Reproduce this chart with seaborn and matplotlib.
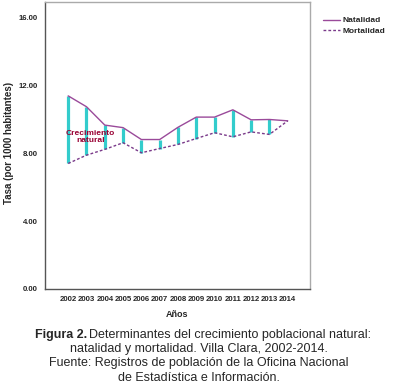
import seaborn as sns
from matplotlib import pyplot as plt
import numpy as np
import pandas as pd

years = [2002, 2003, 2004, 2005, 2006, 2007, 2008, 2009, 2010, 2011, 2012, 2013, 2014]
natalidad = [11.37, 10.73, 9.65, 9.50, 8.80, 8.80, 9.52, 10.12, 10.12, 10.55, 9.96, 9.98, 9.90]
mortalidad = [7.39, 7.88, 8.22, 8.61, 8.02, 8.27, 8.51, 8.86, 9.20, 8.96, 9.25, 9.10, 9.90]
y_ticks = [0, 4, 8, 12, 16]

sns.set_style('white')
plt.rcParams['font.family'] = ['Liberation Sans', 'DejaVu Sans']

df = pd.DataFrame({'year': years, 'Natalidad': natalidad, 'Mortalidad': mortalidad})

fig = plt.figure(figsize=(3.98, 3.9), dpi=100)
ax = fig.add_axes([0.113, 0.259, 0.666, 0.736])

# growth bars between the two rates
ax.vlines(df['year'], df['Mortalidad'], df['Natalidad'], color='#33cccc', lw=2.3, zorder=1)
sns.lineplot(data=df, x='year', y='Natalidad', color='#9a4a9a', lw=1.0, ax=ax,
             label='Natalidad', zorder=2)
sns.lineplot(data=df, x='year', y='Mortalidad', color='#7a3a8a', lw=1.0, ax=ax,
             linestyle=(0, (2, 1.5)), label='Mortalidad', zorder=2)

ax.text(2003.2, 8.95, 'Crecimiento\nnatural', color='#990033', fontsize=6,
        fontweight='bold', ha='center', va='center', linespacing=1.0)

ax.set_xlim(2000.73, 2015.22)
ax.set_ylim(0, 16.9)
ax.set_xticks(years)
ax.set_xticklabels([str(y) for y in years], fontsize=5.6, fontweight='bold')
ax.set_yticks(y_ticks)
ax.set_yticklabels(['%.2f' % v for v in y_ticks], fontsize=5.6, fontweight='bold')
ax.tick_params(axis='both', length=3, width=0.8, color='#444444', pad=2, direction='out')
ax.set_xlabel('Años', fontsize=6.5, fontweight='bold', labelpad=5)
ax.set_ylabel('Tasa (por 1000 habitantes)', fontsize=7, fontweight='bold')
ax.yaxis.set_label_coords(-0.117, 0.509)

for s in ['left', 'bottom']:
    ax.spines[s].set_color('#555555')
    ax.spines[s].set_linewidth(1.0)
for s in ['top', 'right']:
    ax.spines[s].set_color('#aaaaaa')
    ax.spines[s].set_linewidth(1.0)

ax.legend(loc='upper left', bbox_to_anchor=(1.02, 0.975), frameon=False,
          handlelength=2.0, handletextpad=0.3, labelspacing=0.3,
          prop={'weight': 'bold', 'size': 6})

# caption, first line with bold prefix
t1 = fig.text(0.087, 0.142, 'Figura 2.', fontsize=9, fontweight='bold', ha='left', va='center')
fig.canvas.draw()
bb = t1.get_window_extent()
fig.text(bb.x1 / fig.dpi / 3.98 + 0.005, 0.142,
         'Determinantes del crecimiento poblacional natural:',
         fontsize=9, ha='left', va='center')
fig.text(0.5, 0.104, 'natalidad y mortalidad. Villa Clara, 2002-2014.',
         fontsize=9, ha='center', va='center')
fig.text(0.5, 0.068, 'Fuente: Registros de población de la Oficina Nacional',
         fontsize=9, ha='center', va='center')
fig.text(0.5, 0.03, 'de Estadística e Información.',
         fontsize=9, ha='center', va='center')

plt.savefig('out.png', dpi=100)
